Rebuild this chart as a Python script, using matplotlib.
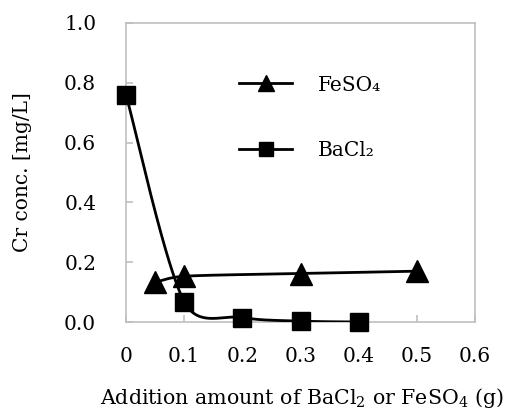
import numpy as np
import matplotlib
matplotlib.use("Agg")
import matplotlib.pyplot as plt
from matplotlib.lines import Line2D

plt.rcParams['font.family'] = ['DejaVu Serif']
plt.rcParams['mathtext.fontset'] = 'dejavuserif'

# data
bacl2_x = [0.0, 0.1, 0.2, 0.3, 0.4]
bacl2_y = [0.76, 0.068, 0.015, 0.003, 0.0]
feso4_x = [0.05, 0.1, 0.3, 0.5]
feso4_y = [0.133, 0.153, 0.162, 0.170]
xticks = [0, 0.1, 0.2, 0.3, 0.4, 0.5, 0.6]
xticklabels = ['0', '0.1', '0.2', '0.3', '0.4', '0.5', '0.6']
yticks = [0.0, 0.2, 0.4, 0.6, 0.8, 1.0]
yticklabels = ['0.0', '0.2', '0.4', '0.6', '0.8', '1.0']

SX = 349 / 0.6  # px per x unit
SY = 299 / 1.0  # px per y unit


def smooth(xs, ys, n=60):
    # Excel-like smoothed line: Bezier with Catmull-Rom control points (screen space)
    P = np.column_stack([np.array(xs) * SX, np.array(ys) * SY]).astype(float)
    P = np.vstack([P[0], P, P[-1]])
    out = []
    for i in range(1, len(P) - 2):
        p0, p1, p2, p3 = P[i - 1], P[i], P[i + 1], P[i + 2]
        L = np.linalg.norm(p2 - p1)
        d1 = (p2 - p0) / 6.0
        d2 = (p3 - p1) / 6.0
        for d in (d1, d2):
            n_ = np.linalg.norm(d)
            if n_ > 0.5 * L:
                d *= 0.5 * L / n_
        b1 = p1 + d1
        b2 = p2 - d2
        t = np.linspace(0, 1, n)[:, None]
        seg = ((1 - t) ** 3) * p1 + 3 * ((1 - t) ** 2) * t * b1 + 3 * (1 - t) * t ** 2 * b2 + t ** 3 * p2
        out.append(seg if i == 1 else seg[1:])
    c = np.vstack(out)
    return c[:, 0] / SX, c[:, 1] / SY


fig = plt.figure(figsize=(5.07, 4.12), dpi=100)
ax = fig.add_axes([126 / 507, (412 - 322) / 412, (475 - 126) / 507, (322 - 23) / 412])

gray = '#BFBFBF'
fs = 14.5
cx, cy = smooth(feso4_x, feso4_y)
ax.plot(cx, cy, color='black', lw=2, zorder=3)
ax.plot(feso4_x, feso4_y, ls='none', marker='^', ms=16, color='black', zorder=4, clip_on=False)
cx, cy = smooth(bacl2_x, bacl2_y)
ax.plot(cx, cy, color='black', lw=2, zorder=3)
ax.plot(bacl2_x, bacl2_y, ls='none', marker='s', ms=12.5, color='black', zorder=4, clip_on=False)

ax.set_xlim(0, 0.6)
ax.set_ylim(0, 1.0)
ax.set_xticks(xticks)
ax.set_xticklabels(xticklabels)
ax.set_yticks(yticks)
ax.set_yticklabels(yticklabels)
for s in ax.spines.values():
    s.set_color(gray)
    s.set_linewidth(1.2)
ax.tick_params(direction='in', length=5, color=gray, width=1.2, labelsize=fs)
ax.tick_params(axis='y', pad=21.5)
ax.tick_params(axis='x', pad=18)

fig.text(23 / 507, 1 - 172 / 412, 'Cr conc. [mg/L]', fontsize=fs, rotation=90,
         ha='center', va='center')
fig.text(100 / 507, 1 - 398 / 412, r'Addition amount of BaCl$_2$ or FeSO$_4$ (g)',
         fontsize=14.8, ha='left', va='center')

handles = [Line2D([], [], color='black', lw=2, marker='^', ms=11),
           Line2D([], [], color='black', lw=2, marker='s', ms=10)]
ax.legend(handles, ['FeSO₄', 'BaCl₂'], loc='upper left', bbox_to_anchor=(0.272, 0.885),
          frameon=False, fontsize=fs, handlelength=2.65, handletextpad=1.25, labelspacing=2.3)

fig.savefig('out.png', dpi=100)
